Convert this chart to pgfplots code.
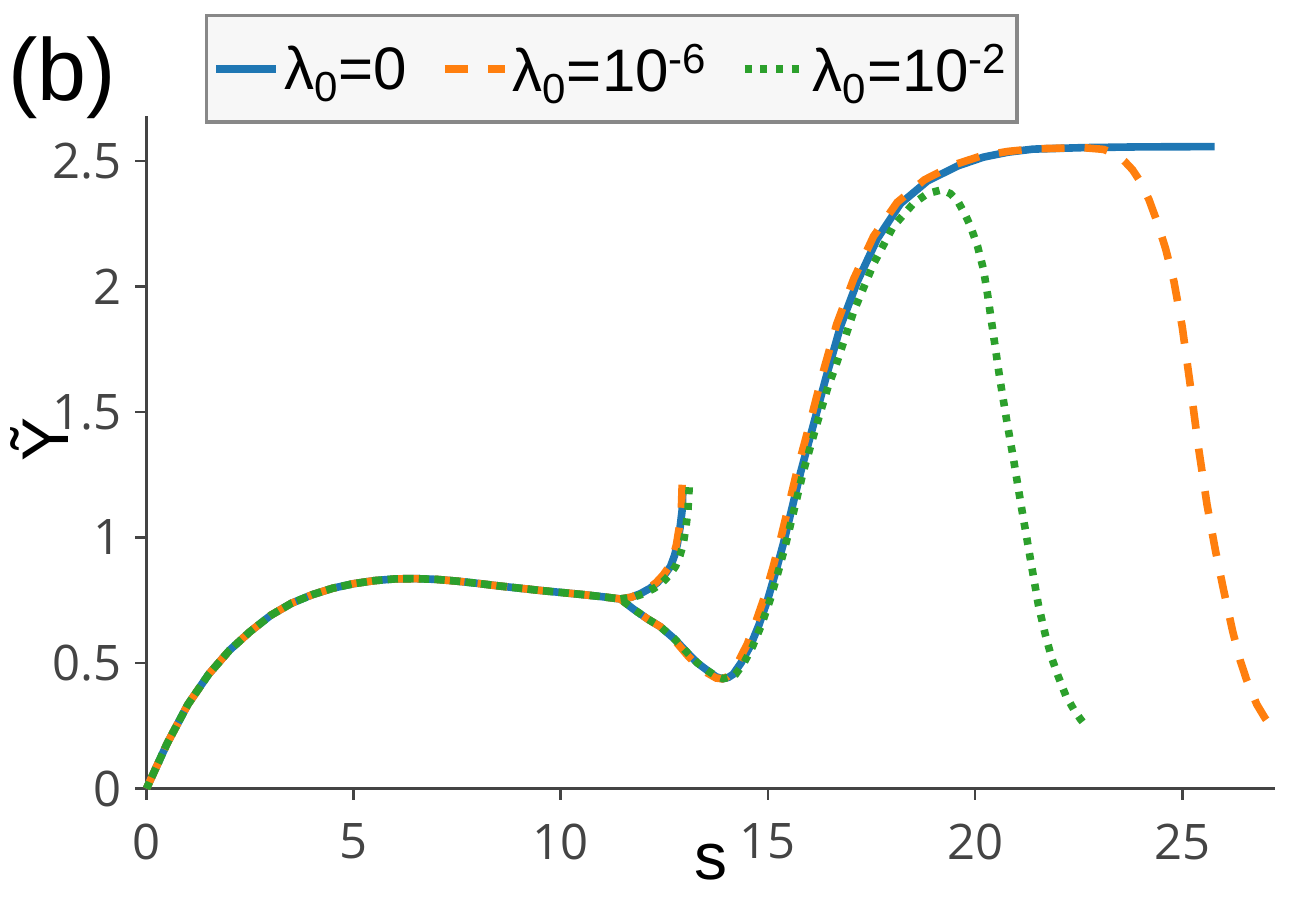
\documentclass[border=0pt]{standalone}
\usepackage{fontspec}
\setmainfont{Liberation Sans}
\newfontfamily\tickfont{Open Sans}
\usepackage{pgfplots}
\pgfplotsset{compat=1.18}
\definecolor{mblue}{HTML}{1F77B4}
\definecolor{morange}{HTML}{FF7F0E}
\definecolor{mgreen}{HTML}{2CA02C}
\definecolor{spine}{HTML}{444444}
\definecolor{leggray}{HTML}{888888}
\definecolor{legfill}{HTML}{F7F7F7}
\begin{document}
\begin{tikzpicture}
\begin{axis}[name=ax, scale only axis, width=564.25bp, height=336bp,
  xmin=0, xmax=27.24, ymin=0, ymax=2.677,
  clip=false,
  axis x line*=bottom, axis y line*=left,
  axis line style={spine, line width=1.3bp, -},
  xtick={0,5,10,15,20,25}, xticklabels={0,5,10,15,20,25},
  ytick={0,0.5,1,1.5,2,2.5}, yticklabels={0,0.5,1,1.5,2,2.5},
  tick align=outside, major tick length=5.5bp,
  tick style={spine, line width=1.3bp},
  ticklabel style={font=\tickfont\fontsize{24.5bp}{29bp}\selectfont, text=spine, inner sep=0pt},
  xticklabel shift=12bp, yticklabel shift=7bp,
  xlabel={s}, ylabel={Ỹ},
  xlabel style={at={(axis description cs:0.5,0)}, anchor=center, yshift=-37bp, font=\fontsize{33bp}{40bp}\selectfont},
  ylabel style={at={(axis description cs:-0.095,0.52)}, anchor=center, font=\fontsize{33bp}{40bp}\selectfont},
  unbounded coords=jump,
  legend style={at={(axis description cs:0.0518,1.1525)}, anchor=north west, draw=leggray, line width=1.7bp, fill=legfill,
    font=\fontsize{30bp}{36bp}\selectfont, inner xsep=3bp, inner ysep=12bp,
    /tikz/every even column/.append style={column sep=15bp}, nodes={inner sep=2bp}},
  legend columns=3, legend cell align=left,
  legend image code/.code={\draw[#1] (0bp,0bp) -- (30bp,0bp);},
  every axis plot/.append style={line width=3.8bp, line cap=butt},
]
% blue
\addplot[mblue, solid] coordinates {
(12.95,1.2)(12.93,1.11)(12.88,1.04)(12.81,0.97)(12.75,0.93)(12.65,0.885)(12.5,0.85)(12.33,0.82)(12.15,0.797)(11.92,0.776)(11.7,0.762)(11.44,0.755)
(11.0,0.764)(10.5,0.773)(10.0,0.781)(9.5,0.789)(9.0,0.798)(8.5,0.807)(8.0,0.817)(7.5,0.826)(7.0,0.833)(6.5,0.836)(6.0,0.835)(5.5,0.828)(5.0,0.816)(4.5,0.798)(4.0,0.772)(3.5,0.738)(3.0,0.69)(2.5,0.625)(2.0,0.55)(1.5,0.455)(1.0,0.335)(0.5,0.18)(0,0)
(0,nan)
(0,0)(0.5,0.18)(1.0,0.335)(1.5,0.455)(2.0,0.55)(2.5,0.625)(3.0,0.69)(3.5,0.738)(4.0,0.772)(4.5,0.798)(5.0,0.816)(5.5,0.828)(6.0,0.835)(6.5,0.836)(7.0,0.833)(7.5,0.826)(8.0,0.817)(8.5,0.807)(9.0,0.798)(9.5,0.789)(10.0,0.781)(10.5,0.773)(11.0,0.764)(11.44,0.755)
(11.75,0.715)(12.1,0.675)(12.4,0.645)(12.75,0.595)(13.06,0.54)(13.3,0.5)(13.54,0.47)(13.75,0.445)(13.9,0.437)(14.05,0.443)(14.16,0.455)(14.35,0.5)(14.57,0.566)(14.78,0.65)(14.99,0.75)(15.2,0.87)(15.38,0.98)(15.6,1.13)(15.79,1.26)(16.1,1.45)(16.39,1.63)(16.75,1.84)(17.16,2.02)(17.64,2.19)(18.2,2.33)(18.85,2.42)(19.58,2.48)(20.2,2.515)(20.8,2.535)(21.4,2.547)(22.62,2.553)(24.0,2.556)(25.78,2.557)
};
\addlegendentry{λ\textsubscript{0}=0}
% orange
\addplot[morange, dash pattern=on 11.5bp off 10bp] coordinates {
(12.93,1.21)(12.91,1.11)(12.86,1.04)(12.79,0.97)(12.72,0.93)(12.62,0.885)(12.47,0.85)(12.3,0.82)(12.12,0.797)(11.9,0.776)(11.7,0.762)(11.44,0.755)
(11.0,0.764)(10.5,0.773)(10.0,0.781)(9.5,0.789)(9.0,0.798)(8.5,0.807)(8.0,0.817)(7.5,0.826)(7.0,0.833)(6.5,0.836)(6.0,0.835)(5.5,0.828)(5.0,0.816)(4.5,0.798)(4.0,0.772)(3.5,0.738)(3.0,0.69)(2.5,0.625)(2.0,0.55)(1.5,0.455)(1.0,0.335)(0.5,0.18)(0,0)
(0,nan)
(0,0)(0.5,0.18)(1.0,0.335)(1.5,0.455)(2.0,0.55)(2.5,0.625)(3.0,0.69)(3.5,0.738)(4.0,0.772)(4.5,0.798)(5.0,0.816)(5.5,0.828)(6.0,0.835)(6.5,0.836)(7.0,0.833)(7.5,0.826)(8.0,0.817)(8.5,0.807)(9.0,0.798)(9.5,0.789)(10.0,0.781)(10.5,0.773)(11.0,0.764)(11.44,0.755)
(11.75,0.715)(12.1,0.675)(12.4,0.645)(12.75,0.59)(13.06,0.53)(13.3,0.49)(13.54,0.46)(13.75,0.44)(13.9,0.437)(14.02,0.445)(14.12,0.46)(14.3,0.51)(14.5,0.575)(14.7,0.66)(14.91,0.76)(15.12,0.88)(15.3,0.99)(15.52,1.14)(15.71,1.27)(16.02,1.46)(16.3,1.64)(16.66,1.85)(17.07,2.03)(17.55,2.2)(18.12,2.335)(18.78,2.425)(19.5,2.485)(20.15,2.52)(20.8,2.538)(21.4,2.548)(22.6,2.553)(23.1,2.546)(23.4,2.527)(23.6,2.50)(23.8,2.465)(24.0,2.415)(24.2,2.345)(24.4,2.255)(24.6,2.15)(24.8,2.02)(25.0,1.84)(25.2,1.6)(25.4,1.35)(25.6,1.13)(25.8,0.95)(26.0,0.79)(26.22,0.625)(26.4,0.51)(26.55,0.435)(26.8,0.335)(27.0,0.28)(27.2,0.235)
};
\addlegendentry{λ\textsubscript{0}=10\textsuperscript{-6}}
% green
\addplot[mgreen, dash pattern=on 3.5bp off 4.3bp] coordinates {
(13.1,1.2)(13.07,1.11)(13.02,1.04)(12.95,0.97)(12.88,0.93)(12.77,0.885)(12.62,0.85)(12.45,0.82)(12.25,0.797)(12.0,0.776)(11.75,0.762)(11.44,0.755)
(11.0,0.764)(10.5,0.773)(10.0,0.781)(9.5,0.789)(9.0,0.798)(8.5,0.807)(8.0,0.817)(7.5,0.826)(7.0,0.833)(6.5,0.836)(6.0,0.835)(5.5,0.828)(5.0,0.816)(4.5,0.798)(4.0,0.772)(3.5,0.738)(3.0,0.69)(2.5,0.625)(2.0,0.55)(1.5,0.455)(1.0,0.335)(0.5,0.18)(0,0)
(0,nan)
(0,0)(0.5,0.18)(1.0,0.335)(1.5,0.455)(2.0,0.55)(2.5,0.625)(3.0,0.69)(3.5,0.738)(4.0,0.772)(4.5,0.798)(5.0,0.816)(5.5,0.828)(6.0,0.835)(6.5,0.836)(7.0,0.833)(7.5,0.826)(8.0,0.817)(8.5,0.807)(9.0,0.798)(9.5,0.789)(10.0,0.781)(10.5,0.773)(11.0,0.764)(11.44,0.755)
(11.75,0.715)(12.1,0.675)(12.4,0.645)(12.75,0.595)(13.06,0.54)(13.3,0.5)(13.54,0.47)(13.75,0.447)(13.92,0.438)(14.08,0.443)(14.22,0.455)(14.42,0.5)(14.63,0.566)(14.84,0.65)(15.05,0.75)(15.26,0.87)(15.44,0.98)(15.66,1.13)(15.85,1.26)(16.16,1.44)(16.45,1.6)(16.63,1.68)(17.07,1.9)(17.55,2.09)(18.03,2.24)(18.51,2.33)(18.85,2.37)(19.2,2.385)(19.4,2.37)(19.58,2.34)(19.75,2.29)(19.89,2.24)(20.06,2.16)(20.2,2.07)(20.3,1.97)(20.45,1.8)(20.6,1.63)(20.77,1.46)(20.93,1.31)(21.12,1.12)(21.34,0.91)(21.53,0.73)(21.7,0.61)(21.85,0.52)(22.0,0.45)(22.19,0.37)(22.4,0.31)(22.55,0.275)(22.72,0.24)
};
\addlegendentry{λ\textsubscript{0}=10\textsuperscript{-2}}
\node[font=\fontsize{44bp}{52bp}\selectfont, anchor=center] at (axis description cs:-0.0749,1.057) {(b)};
\end{axis}
\pgfresetboundingbox
\path[use as bounding box] ([shift={(-73.25bp,-54.25bp)}]ax.south west) rectangle ([shift={(10.5bp,58.25bp)}]ax.north east);
\end{tikzpicture}
\end{document}
